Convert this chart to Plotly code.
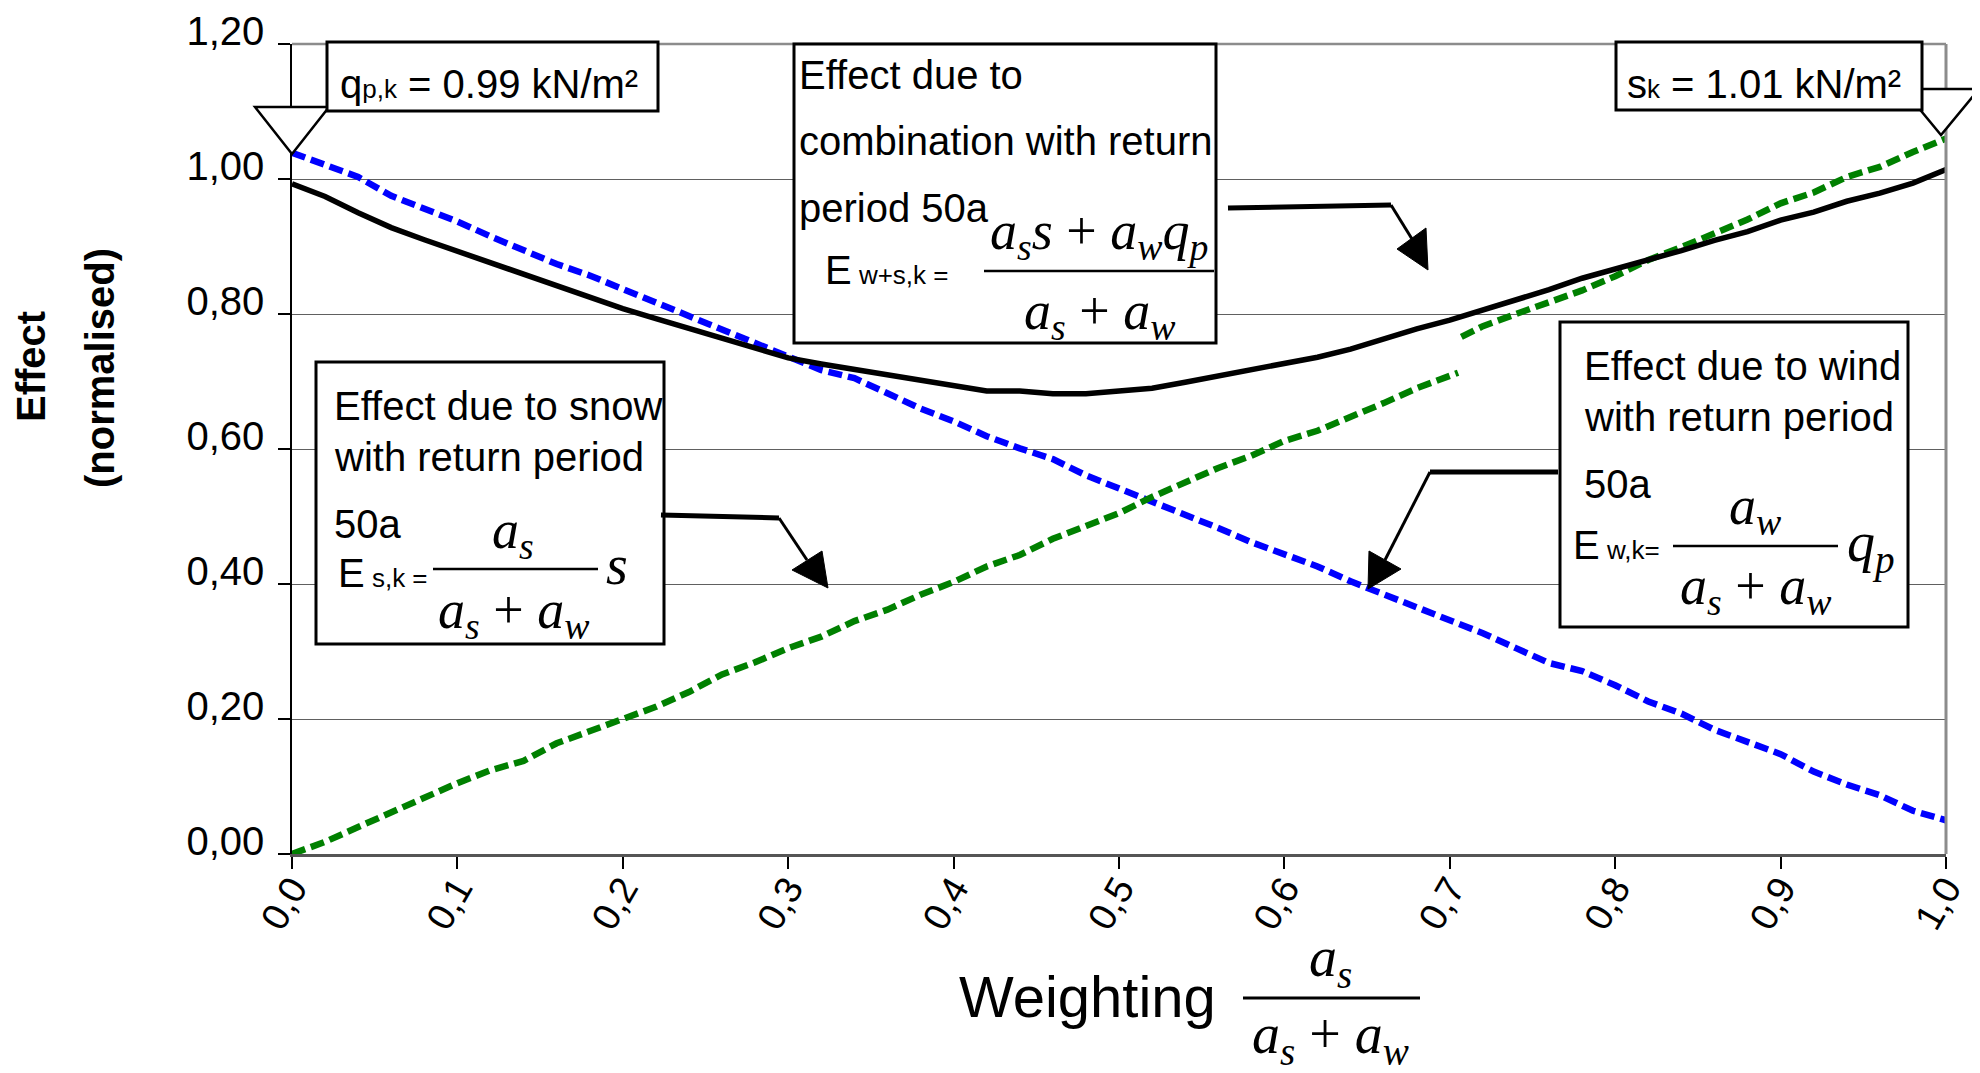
import plotly.graph_objects as go

# ---------------- data ----------------
weighting = [0.00, 0.02, 0.04, 0.06, 0.08, 0.10, 0.12, 0.14, 0.16, 0.18,
             0.20, 0.22, 0.24, 0.26, 0.28, 0.30, 0.32, 0.34, 0.36, 0.38,
             0.40, 0.42, 0.44, 0.46, 0.48, 0.50, 0.52, 0.54, 0.56, 0.58,
             0.60, 0.62, 0.64, 0.66, 0.68, 0.70, 0.72, 0.74, 0.76, 0.78,
             0.80, 0.82, 0.84, 0.86, 0.88, 0.90, 0.92, 0.94, 0.96, 0.98, 1.00]

wind_effect = [1.039, 1.021, 1.003, 0.975, 0.957, 0.937, 0.915, 0.895, 0.874, 0.857,
               0.837, 0.819, 0.798, 0.778, 0.758, 0.739, 0.717, 0.705, 0.682, 0.660,
               0.641, 0.619, 0.601, 0.585, 0.561, 0.542, 0.523, 0.502, 0.483, 0.462,
               0.444, 0.426, 0.404, 0.385, 0.366, 0.345, 0.327, 0.305, 0.283, 0.271,
               0.250, 0.226, 0.208, 0.184, 0.166, 0.148, 0.122, 0.103, 0.087, 0.064, 0.050]

combined_effect = [0.993, 0.974, 0.950, 0.928, 0.910, 0.893, 0.876, 0.858, 0.840, 0.823,
                   0.808, 0.793, 0.779, 0.763, 0.749, 0.735, 0.726, 0.718, 0.709, 0.701,
                   0.695, 0.686, 0.686, 0.682, 0.682, 0.685, 0.690, 0.699, 0.708, 0.717,
                   0.727, 0.736, 0.748, 0.764, 0.778, 0.791, 0.806, 0.820, 0.836, 0.853,
                   0.866, 0.880, 0.894, 0.909, 0.922, 0.939, 0.951, 0.967, 0.979, 0.994, 1.014]

snow_x = [0.00, 0.02, 0.04, 0.06, 0.08, 0.10, 0.12, 0.14, 0.16, 0.18,
          0.20, 0.22, 0.24, 0.26, 0.28, 0.30, 0.32, 0.34, 0.36, 0.38,
          0.40, 0.42, 0.44, 0.46, 0.48, 0.50, 0.52, 0.54, 0.56, 0.58,
          0.60, 0.62, 0.64, 0.66, 0.68, 0.705, 0.706,
          0.707, 0.72, 0.74, 0.76, 0.78, 0.80, 0.82, 0.84, 0.86, 0.88,
          0.90, 0.92, 0.94, 0.96, 0.98, 1.00]
snow_effect = [0.000, 0.018, 0.040, 0.062, 0.084, 0.105, 0.124, 0.138, 0.164, 0.182,
               0.202, 0.218, 0.240, 0.266, 0.284, 0.305, 0.322, 0.345, 0.362, 0.384,
               0.403, 0.426, 0.443, 0.467, 0.486, 0.505, 0.529, 0.550, 0.572, 0.590,
               0.612, 0.627, 0.647, 0.668, 0.690, 0.713, None,
               0.766, 0.782, 0.800, 0.817, 0.835, 0.856, 0.880, 0.899, 0.920, 0.940,
               0.964, 0.980, 1.003, 1.018, 1.040, 1.060]

x_ticks = [0.0, 0.1, 0.2, 0.3, 0.4, 0.5, 0.6, 0.7, 0.8, 0.9, 1.0]
x_tick_labels = ["0,0", "0,1", "0,2", "0,3", "0,4", "0,5", "0,6", "0,7", "0,8", "0,9", "1,0"]
y_ticks = [0.0, 0.2, 0.4, 0.6, 0.8, 1.0, 1.2]
y_tick_labels = ["0,00", "0,20", "0,40", "0,60", "0,80", "1,00", "1,20"]

# ---------------- layout helpers ----------------
OFF = 8                      # page margin of the html body
W, H = 1980 - OFF, 1073 - OFF
PL, PR, PT, PB = 292, 1946, 44, 854          # plot area in page pixels
SANS = "Liberation Sans, Arial, sans-serif"
SERIF = "Liberation Serif, Times New Roman, serif"
ASC_SANS = 0.905
ASC_SERIF = 0.891


def px(x):
    return (x - PL) / (PR - PL)


def py(y):
    return (PB - y) / (PB - PT)


annotations = []
shapes = []


def text(t, x, baseline, size, xanchor="left", family=SANS, **kw):
    asc = ASC_SERIF if family == SERIF else ASC_SANS
    top = baseline - asc * size
    annotations.append(dict(
        text=t, x=px(x), y=py(top), xref="paper", yref="paper",
        xanchor=xanchor, yanchor="top", showarrow=False, borderpad=0,
        font=dict(family=family, size=size, color="black"), **kw))


def line(x0, y0, x1, y1, width=3, color="black"):
    shapes.append(dict(type="line", xref="paper", yref="paper", layer="above",
                       x0=px(x0), y0=py(y0), x1=px(x1), y1=py(y1),
                       line=dict(color=color, width=width)))


def poly(points, fill, lw=2.5):
    p = "M " + " L ".join(f"{px(a):.5f},{py(b):.5f}" for a, b in points) + " Z"
    shapes.append(dict(type="path", xref="paper", yref="paper", layer="above",
                       path=p, fillcolor=fill, line=dict(color="black", width=lw)))


def box(x0, y0, x1, y1):
    shapes.append(dict(type="rect", xref="paper", yref="paper", layer="above",
                       x0=px(x0), y0=py(y1), x1=px(x1), y1=py(y0),
                       fillcolor="white", line=dict(color="black", width=3)))


def frac(num, den, cx, num_base, bar_x0, bar_x1, bar_y, den_base, size=54):
    text(num, cx, num_base, size, xanchor="center", family=SERIF)
    line(bar_x0, bar_y, bar_x1, bar_y, width=2.5)
    text(den, cx, den_base, size, xanchor="center", family=SERIF)


def small(t, size=26):
    return f"<span style='font-size:{size}px'>{t}</span>"


AS = "<i>a<sub>s</sub></i>"
AW = "<i>a<sub>w</sub></i>"
DEN = f"{AS} + {AW}"

# ---------------- figure ----------------
fig = go.Figure()
fig.add_trace(go.Scatter(x=weighting, y=wind_effect, mode="lines",
                         line=dict(color="#0000FF", width=6.5, dash="14px,6px")))
fig.add_trace(go.Scatter(x=snow_x, y=snow_effect, mode="lines", connectgaps=False,
                         line=dict(color="#008000", width=6.5, dash="14px,6px")))
fig.add_trace(go.Scatter(x=weighting, y=combined_effect, mode="lines",
                         line=dict(color="black", width=5.5)))

# plot frame (top and right in grey)
line(PL, PT, PR, PT, width=2.5, color="#8c8c8c")
line(PR, PT, PR, PB, width=3, color="#8c8c8c")

# callout triangles (drawn before boxes)
poly([(255, 107), (329, 107), (292, 154)], "white")
poly([(1903, 89), (1979, 89), (1941, 135)], "white")

# value boxes
box(327, 42, 658, 111)
text("q" + small("p,k") + " = 0.99 kN/m²", 339, 97, 40)
box(1616, 42, 1922, 110)
text("s" + small("k") + " = 1.01 kN/m²", 1626, 97, 40)

# combination box
box(794, 44, 1216, 343)
text("Effect due to", 798, 88, 40)
text("combination with return", 798, 154, 40)
text("period 50a", 798, 221, 40)
text("E" + small(" w+s,k =", 26), 824, 283, 40)
frac("<i>a<sub>s</sub>s</i> + <i>a<sub>w</sub>q<sub>p</sub></i>", DEN,
     1099, 248, 984, 1214, 271, 328)

# snow box
box(316, 362, 664, 644)
text("Effect due to snow", 333, 419, 40)
text("with return period", 333, 470, 40)
text("50a", 333, 537, 40)
text("E" + small(" s,k =", 26), 337, 586, 40)
frac(AS, DEN, 513, 547, 433, 598, 569, 627)
text("<i>s</i>", 605, 583, 56, family=SERIF)

# wind box
box(1560, 322, 1908, 627)
text("Effect due to wind", 1583, 379, 40)
text("with return period", 1583, 430, 40)
text("50a", 1583, 497, 40)
text("E" + small(" w,k=", 26), 1572, 558, 40)
frac(AW, DEN, 1755, 523, 1673, 1838, 546, 603)
text("<i>q<sub>p</sub></i>", 1846, 560, 56, family=SERIF)

# arrows
line(1228, 208, 1391, 205, width=5)
line(1391, 205, 1412, 239, width=3)
poly([(1397, 249), (1426, 228), (1428, 270)], "black", lw=1)

line(661, 515, 779, 518, width=5)
line(779, 518, 807, 560, width=3)
poly([(792, 570), (822, 551), (828, 588)], "black", lw=1)

line(1558, 472, 1430, 472, width=5)
line(1430, 472, 1385, 560, width=3)
poly([(1369, 551), (1401, 569), (1368, 589)], "black", lw=1)

# axis titles
annotations.append(dict(text="<b>Effect</b>", x=px(31), y=py(367), xref="paper", yref="paper",
                        xanchor="center", yanchor="middle", textangle=-90, showarrow=False,
                        font=dict(family=SANS, size=40, color="black")))
annotations.append(dict(text="<b>(normalised)</b>", x=px(100), y=py(368), xref="paper", yref="paper",
                        xanchor="center", yanchor="middle", textangle=-90, showarrow=False,
                        font=dict(family=SANS, size=40, color="black")))
text("Weighting", 958, 1015, 58)
text(AS, 1330, 975, 56, xanchor="center", family=SERIF)
line(1243, 998, 1420, 998, width=3)
text(DEN, 1330, 1052, 56, xanchor="center", family=SERIF)

fig.update_layout(
    width=W, height=H,
    margin=dict(l=PL - OFF, r=W - (PR - OFF), t=PT - OFF, b=H - (PB - OFF), pad=0,
                autoexpand=False),
    paper_bgcolor="white", plot_bgcolor="white",
    showlegend=False,
    shapes=shapes, annotations=annotations,
    font=dict(family=SANS, color="black"),
    xaxis=dict(range=[0, 1], tickvals=x_ticks, ticktext=x_tick_labels, tickangle=-60,
               ticks="outside", ticklen=12, tickwidth=1.5, tickcolor="black",
               showgrid=False, zeroline=False, showline=True, linecolor="#555555",
               linewidth=3, ticklabelstandoff=-18, ticklabeloverflow="allow",
               automargin=False,
               tickfont=dict(family=SANS, size=38, color="black")),
    yaxis=dict(range=[0, 1.2], tickvals=y_ticks, ticktext=y_tick_labels,
               ticks="outside", ticklen=12, tickwidth=1.5, tickcolor="black",
               showgrid=True, gridcolor="#606060", gridwidth=1.2, zeroline=False,
               showline=True, linecolor="black", linewidth=1.5,
               ticklabelshift=-13, ticklabelstandoff=6, ticklabeloverflow="allow",
               automargin=False,
               tickfont=dict(family=SANS, size=40, color="black")),
)

fig.write_html("out.html")
